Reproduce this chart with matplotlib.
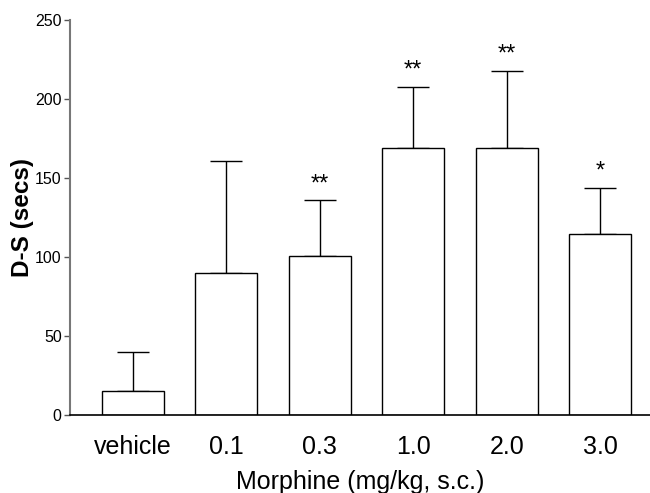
import matplotlib
matplotlib.use('Agg')
from matplotlib import pyplot as plt

plt.rcParams['font.family'] = ['Liberation Sans', 'DejaVu Sans']

groups = ['vehicle', '0.1', '0.3', '1.0', '2.0', '3.0']
means = [15, 90, 101, 169, 169, 114.5]
sem = [25, 71, 35, 39, 49, 29.5]
stars = ['', '', '**', '**', '**', '*']

fig = plt.figure(figsize=(6.5, 4.93), dpi=100)
ax = fig.add_axes([0.1077, 0.158, 0.8923, 0.801])

x = list(range(len(groups)))
ax.bar(x, means, width=0.664, color='white', edgecolor='black', linewidth=1.0, zorder=2)
ax.errorbar(x, means, yerr=[[0] * len(sem), sem], fmt='none', ecolor='black',
            elinewidth=1.0, capsize=11.2, capthick=1.0, zorder=1)

for xi, m, s, st in zip(x, means, sem, stars):
    if st:
        ax.text(xi, m + s + 3, st, ha='center', va='bottom', fontsize=17)

ax.set_xlim(-0.675, 5.535)
ax.set_ylim(0, 250)
ax.set_yticks([0, 50, 100, 150, 200, 250])
ax.set_xticks(x)
ax.set_xticklabels(groups, fontsize=18)
ax.tick_params(axis='x', length=0, pad=14)
ax.tick_params(axis='y', labelsize=11.5, length=4, width=1, color='#555555', pad=2)

for side in ['top', 'right']:
    ax.spines[side].set_visible(False)
ax.spines['left'].set_color('#777777')
ax.spines['left'].set_linewidth(1.5)
ax.spines['bottom'].set_linewidth(1.2)

ax.set_xlabel('Morphine (mg/kg, s.c.)', fontsize=18, labelpad=8)
ax.set_ylabel('D-S (secs)', fontsize=17.5, fontweight='bold')
ax.yaxis.set_label_coords(-0.062, 0.5)

plt.savefig('out.png', dpi=100)
